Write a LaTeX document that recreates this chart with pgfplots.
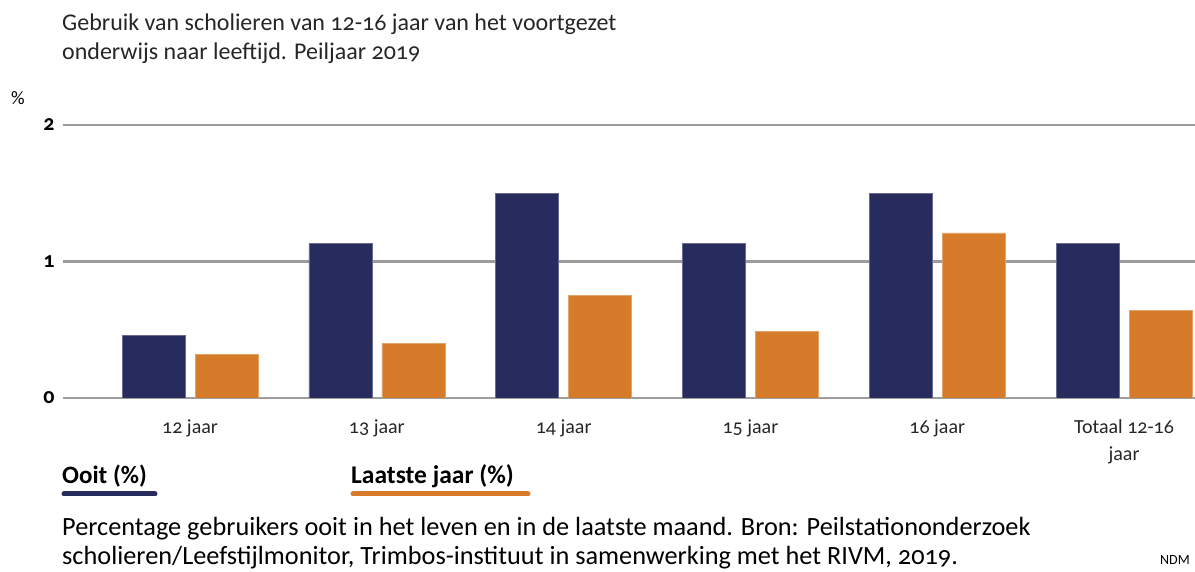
\documentclass[border=0pt]{standalone}
\usepackage{fontspec}
\setmainfont{Carlito}[Numbers=OldStyle]
\usepackage{pgfplots}
\pgfplotsset{compat=1.18}
\definecolor{navy}{HTML}{282B5E}
\definecolor{oranje}{HTML}{D67B29}
\definecolor{rooster}{HTML}{9C9C9C}

\pgfplotstableread{
x ooit laatste
0 0.46 0.32
1 1.13 0.40
2 1.50 0.75
3 1.13 0.49
4 1.50 1.21
5 1.13 0.64
}\gebruik

\begin{document}
\begin{tikzpicture}[x=1bp,y=1bp]
\useasboundingbox (0,0) rectangle (1195,572);
\begin{axis}[
  at={(63bp,174bp)}, anchor=south west,
  scale only axis, width=1132bp, height=273bp,
  xmin=-0.68, xmax=5.38, ymin=0, ymax=2,
  axis line style={draw=none}, tick style={draw=none},
  ytick={0,1,2}, ymajorgrids,
  major grid style={rooster, line width=2.2bp},
  xtick=data,
  xticklabels={12 jaar,13 jaar,14 jaar,15 jaar,16 jaar,Totaal 12-16\\jaar},
  xticklabel style={font=\fontsize{20bp}{27bp}\selectfont, color=black!85,
    align=center, anchor=north, yshift=-14bp},
  yticklabel style={font=\fontsize{22bp}{22bp}\selectfont\bfseries, anchor=east, xshift=-5bp},
  /pgf/number format/assume math mode=true,
  ybar, bar width=63bp,
]
\addplot[draw=navy!70, line width=0.5bp, fill=navy, bar shift=-36.5bp] table[x=x, y=ooit] {\gebruik};
\addplot[draw=oranje!70, line width=0.5bp, fill=oranje, bar shift=36.5bp] table[x=x, y=laatste] {\gebruik};
\end{axis}
\begin{scope}[every node/.style={inner sep=0pt}]
\node[anchor=base west, font=\fontsize{24bp}{28bp}\selectfont, color=black!85] at (62,541) {Gebruik van scholieren van 12-16 jaar van het voortgezet};
\node[anchor=base west, font=\fontsize{24bp}{28bp}\selectfont, color=black!85] at (62,512) {onderwijs naar leeftijd. Peiljaar 2019};
\node[anchor=base west, font=\fontsize{19bp}{20bp}\selectfont] at (11,467) {\%};
\node[anchor=base west, font=\fontsize{25bp}{28bp}\selectfont\bfseries] at (62,88) {Ooit (\%)};
\draw[navy, line width=5bp, line cap=round] (64,78) -- (155,78);
\node[anchor=base west, font=\fontsize{25.5bp}{28bp}\selectfont\bfseries] at (351,88) {Laatste jaar (\%)};
\draw[oranje, line width=5bp, line cap=round] (353,78) -- (528,78);
\node[anchor=base west, font=\fontsize{26.3bp}{30bp}\selectfont] at (62,36) {Percentage gebruikers ooit in het leven en in de laatste maand. Bron: Peilstationonderzoek};
\node[anchor=base west, font=\fontsize{26.3bp}{30bp}\selectfont] at (62,7) {scholieren/Leefstijlmonitor, Trimbos-instituut in samenwerking met het RIVM, 2019.};
\node[anchor=base east, font=\fontsize{14bp}{16bp}\selectfont] at (1190,7) {NDM};
\end{scope}
\end{tikzpicture}
\end{document}
